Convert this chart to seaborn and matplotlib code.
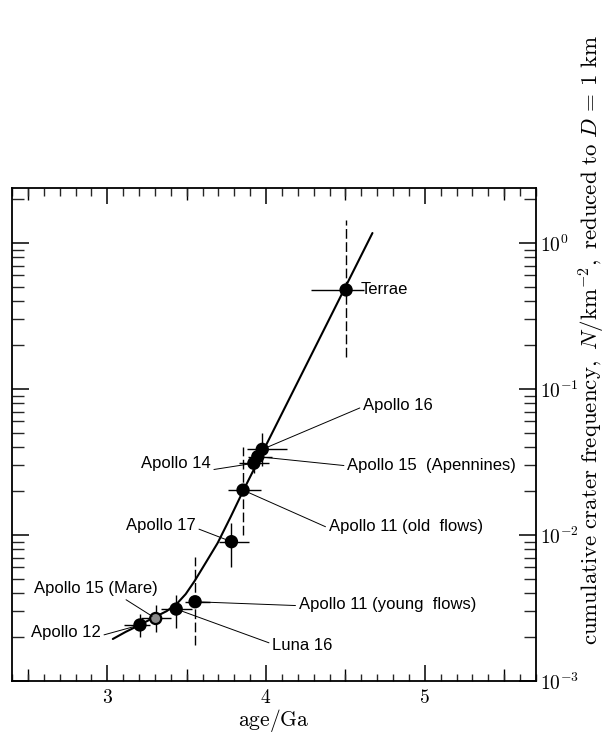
import numpy as np
import pandas as pd
import matplotlib
matplotlib.use("Agg")
import matplotlib.pyplot as plt
from matplotlib import ticker
import seaborn as sns

# ---------------- data ----------------
sites = ["Apollo 12", "Apollo 15 (Mare)", "Luna 16", "Apollo 11 (young flows)",
         "Apollo 17", "Apollo 11 (old flows)", "Apollo 14", "Apollo 15 (Apennines)",
         "Apollo 16", "Terrae"]
age = [3.206, 3.305, 3.434, 3.553, 3.782, 3.855, 3.923, 3.948, 3.976, 4.504]
freq = [2.42e-3, 2.68e-3, 3.11e-3, 3.49e-3, 9.0e-3, 2.03e-2, 3.1e-2, 3.44e-2, 3.86e-2, 0.477]
age_lo = [0.10, 0.094, 0.095, 0.063, 0.08, 0.094, 0.094, 0.06, 0.094, 0.22]
age_hi = [0.06, 0.094, 0.10, 0.094, 0.11, 0.11, 0.094, 0.09, 0.157, 0.11]
freq_lo = [2.0e-3, 2.18e-3, 2.31e-3, 1.77e-3, 6.0e-3, 1.0e-2, 2.66e-2, 2.99e-2, 2.97e-2, 0.166]
freq_hi = [2.88e-3, 3.32e-3, 3.88e-3, 7.1e-3, 1.20e-2, 4.03e-2, 3.65e-2, 3.96e-2, 5.0e-2, 1.44]
dashed_err = [False, False, False, True, False, True, False, False, False, True]
marker_kind = ["filled", "open", "filled", "filled", "filled", "filled",
               "filled", "filled", "filled", "filled"]

curve_age = [3.035, 3.116, 3.204, 3.299, 3.374, 3.437, 3.494, 3.550, 3.619,
             3.695, 3.777, 3.858, 4.670]
curve_freq = [1.94e-3, 2.17e-3, 2.42e-3, 2.74e-3, 3.01e-3, 3.37e-3, 3.94e-3,
              4.84e-3, 6.43e-3, 8.81e-3, 1.33e-2, 2.03e-2, 1.17]

x_major = [3, 4, 5]
x_half = [2.5, 3.5, 4.5, 5.5]
y_major = [1e-3, 1e-2, 1e-1, 1e0]

label_text = ["Apollo 12", "Apollo 15 (Mare)", "Luna 16", "Apollo 11 (young  flows)",
              "Apollo 17", "Apollo 11 (old  flows)", "Apollo 14", "Apollo 15  (Apennines)",
              "Apollo 16", "Terrae"]

# ---------------- label layout ----------------
label_xy = [(2.959, 2.14e-3), (2.540, 4.27e-3), (4.039, 1.75e-3), (4.206, 3.32e-3),
            (3.557, 1.159e-2), (4.395, 1.14e-2), (3.651, 3.11e-2), (4.511, 3.01e-2),
            (4.611, 7.76e-2), (4.594, 0.477)]
label_ha = ["right", "left", "left", "left", "right", "left", "right", "left", "left", "left"]
label_rel = [(1.0, 0.3), (0.7, 0.0), (0.0, 0.6), (0.0, 0.45), (1.0, 0.35), (0.0, 0.4),
             (0.95, 0.0), (0.0, 0.45), (0.0, 0.4), None]

# ---------------- style ----------------
sns.set_theme(style="ticks")
plt.rcParams["font.family"] = ["Liberation Sans", "DejaVu Sans"]
plt.rcParams["mathtext.fontset"] = "cm"
plt.rcParams["axes.linewidth"] = 1.3

fig = plt.figure(figsize=(6.08, 7.34), dpi=100)
fig.patch.set_facecolor("white")
ax = fig.add_axes([12 / 608, 1 - 681 / 734, 524 / 608, 493 / 734])
ax.set_facecolor("white")
for s in ax.spines.values():
    s.set_color("black")
    s.set_linewidth(1.3)

# curve
sns.lineplot(x=curve_age, y=curve_freq, sort=False, estimator=None,
             color="black", linewidth=1.5, ax=ax, zorder=3)

# error bars
age_a = np.array(age)
freq_a = np.array(freq)
xerr = np.vstack([age_lo, age_hi])
yerr = np.vstack([freq_a - np.array(freq_lo), np.array(freq_hi) - freq_a])
ax.errorbar(age_a, freq_a, xerr=xerr, fmt="none", ecolor="black", elinewidth=1.0,
            capsize=0, zorder=4)
dmask = np.array(dashed_err)
ax.errorbar(age_a[~dmask], freq_a[~dmask], yerr=yerr[:, ~dmask], fmt="none",
            ecolor="black", elinewidth=1.0, capsize=0, zorder=4)
eb = ax.errorbar(age_a[dmask], freq_a[dmask], yerr=yerr[:, dmask], fmt="none",
                 ecolor="black", elinewidth=1.0, capsize=0, zorder=4)
for lc in eb[2]:
    lc.set_linestyle((0, (7, 2.5)))

# points
df = pd.DataFrame({"age": age, "freq": freq, "kind": marker_kind})
sns.scatterplot(data=df, x="age", y="freq", hue="kind",
                palette={"filled": "black", "open": "#8a8a8a"},
                s=64, edgecolor="black", linewidth=1.6, legend=False, ax=ax, zorder=5)

# labels with leader lines
for t, (tx, ty), ha, rel, x0, y0 in zip(label_text, label_xy, label_ha, label_rel, age, freq):
    if rel is None:
        ax.text(tx, ty, t, ha=ha, va="center", fontsize=12, color="black", zorder=6)
    else:
        ax.annotate(t, xy=(x0, y0), xytext=(tx, ty), ha=ha, va="center",
                    fontsize=12, color="black", zorder=6,
                    arrowprops=dict(arrowstyle="-", color="black", lw=0.7,
                                    relpos=rel, shrinkA=0, shrinkB=3))

# axes
ax.set_yscale("log")
ax.set_xlim(2.4, 5.7)
ax.set_ylim(1e-3, 2.38)

ax.xaxis.set_major_locator(ticker.FixedLocator(x_major))
ax.xaxis.set_major_formatter(ticker.FuncFormatter(lambda v, p: r"$%d$" % round(v)))
ax.xaxis.set_minor_locator(ticker.MultipleLocator(0.1))
ax.yaxis.set_major_locator(ticker.FixedLocator(y_major))
ax.yaxis.set_major_formatter(ticker.FuncFormatter(
    lambda v, p: r"$10^{%d}$" % round(np.log10(v))))
ax.yaxis.set_minor_locator(ticker.LogLocator(base=10, subs=np.arange(2, 10)))
ax.yaxis.set_minor_formatter(ticker.NullFormatter())

ax.tick_params(axis="x", which="major", direction="in", length=11.5, width=1.1,
               top=True, bottom=True, labelsize=14, pad=6, colors="black")
ax.tick_params(axis="x", which="minor", direction="in", length=5.4, width=1.0,
               top=True, bottom=True)
ax.tick_params(axis="y", which="major", direction="in", length=12, width=1.1,
               left=True, right=True, labelleft=False, labelright=True,
               labelsize=14, pad=3, colors="black")
ax.tick_params(axis="y", which="minor", direction="in", length=8.3, width=1.0,
               left=True, right=True)

for loc in ("bottom", "top"):
    sec = ax.secondary_xaxis(loc)
    sec.xaxis.set_major_locator(ticker.FixedLocator(x_half))
    sec.xaxis.set_minor_locator(ticker.NullLocator())
    sec.tick_params(direction="in", length=8.6, width=1.0, labelbottom=False,
                    labeltop=False, colors="black")
    sec.spines[loc].set_visible(False)

ax.set_xlabel(r"$\mathrm{age/Ga}$", fontsize=15.5, color="black", va="center")
ax.xaxis.set_label_coords(0.5, (681 - 721) / 493)
ax.yaxis.set_label_position("right")
ax.set_ylabel(r"$\mathrm{cumulative\ crater\ frequency,}\ N/\mathrm{km}^{-2}\mathrm{,\ reduced\ to}\ D\,=\,1\ \mathrm{km}$",
              fontsize=16.5, color="black", rotation=90, va="center", ha="center")
ax.yaxis.set_label_coords((592 - 12) / 524, (681 - 340) / 493)

fig.savefig("out.png", dpi=100, facecolor="white")
